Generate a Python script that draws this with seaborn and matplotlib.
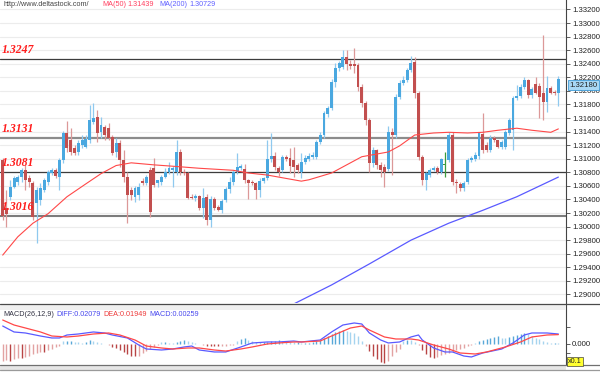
import numpy as np
import pandas as pd
import matplotlib
matplotlib.use('Agg')
import matplotlib.pyplot as plt
from matplotlib.lines import Line2D
from matplotlib.patches import Rectangle
import matplotlib.transforms as mtrans
import seaborn as sns

sns.set_style('white')
plt.rcParams['font.family'] = ['Liberation Sans', 'DejaVu Sans']

### DATA ###
opens = [1.3098, 1.3027, 1.3044, 1.3058, 1.3066, 1.3073, 1.3083, 1.3072, 1.3064, 1.3035,
	1.3039, 1.3054, 1.3066, 1.3079, 1.3083, 1.3073, 1.3098, 1.3138, 1.3128, 1.3116,
	1.3110, 1.3120, 1.3117, 1.3128, 1.3154, 1.3162, 1.3139, 1.3147, 1.3145, 1.3132,
	1.3110, 1.3123, 1.3098, 1.3073, 1.3054, 1.3044, 1.3047, 1.3067, 1.3064, 1.3083,
	1.3086, 1.3064, 1.3066, 1.3073, 1.3080, 1.3084, 1.3080, 1.3110, 1.3081, 1.3079,
	1.3044, 1.3042, 1.3045, 1.3027, 1.3044, 1.3010, 1.3040, 1.3029, 1.3025, 1.3039,
	1.3055, 1.3066, 1.3080, 1.3087, 1.3085, 1.3069, 1.3066, 1.3064, 1.3054, 1.3067,
	1.3071, 1.3100, 1.3104, 1.3086, 1.3083, 1.3103, 1.3101, 1.3098, 1.3091, 1.3080,
	1.3095, 1.3099, 1.3102, 1.3103, 1.3125, 1.3135, 1.3166, 1.3175, 1.3213, 1.3234,
	1.3235, 1.3250, 1.3240, 1.3240, 1.3238, 1.3206, 1.3182, 1.3157, 1.3094, 1.3113,
	1.3091, 1.3088, 1.3085, 1.3140, 1.3135, 1.3191, 1.3212, 1.3216, 1.3231, 1.3243,
	1.3197, 1.3103, 1.3069, 1.3076, 1.3084, 1.3087, 1.3080, 1.3091, 1.3098, 1.3135,
	1.3066, 1.3063, 1.3057, 1.3066, 1.3098, 1.3099, 1.3104, 1.3136, 1.3120, 1.3113,
	1.3130, 1.3127, 1.3118, 1.3118, 1.3138, 1.3143, 1.3189, 1.3193, 1.3206, 1.3216,
	1.3194, 1.3210, 1.3207, 1.3197, 1.3183, 1.3204, 1.3198, 1.3197]
highs = [1.3101, 1.3054, 1.3069, 1.3075, 1.3076, 1.3086, 1.3091, 1.3076, 1.3067, 1.3058,
	1.3064, 1.3072, 1.3083, 1.3086, 1.3086, 1.3101, 1.3141, 1.3156, 1.3145, 1.3120,
	1.3128, 1.3135, 1.3135, 1.3179, 1.3182, 1.3172, 1.3162, 1.3150, 1.3153, 1.3135,
	1.3131, 1.3128, 1.3113, 1.3080, 1.3058, 1.3060, 1.3064, 1.3072, 1.3076, 1.3088,
	1.3101, 1.3069, 1.3076, 1.3086, 1.3095, 1.3090, 1.3128, 1.3115, 1.3085, 1.3081,
	1.3048, 1.3048, 1.3047, 1.3057, 1.3048, 1.3045, 1.3043, 1.3032, 1.3041, 1.3058,
	1.3073, 1.3083, 1.3108, 1.3092, 1.3092, 1.3070, 1.3069, 1.3066, 1.3071, 1.3073,
	1.3128, 1.3138, 1.3110, 1.3090, 1.3106, 1.3106, 1.3116, 1.3117, 1.3094, 1.3108,
	1.3105, 1.3108, 1.3110, 1.3128, 1.3140, 1.3170, 1.3178, 1.3218, 1.3241, 1.3244,
	1.3260, 1.3260, 1.3245, 1.3263, 1.3241, 1.3210, 1.3185, 1.3160, 1.3118, 1.3115,
	1.3095, 1.3092, 1.3148, 1.3145, 1.3195, 1.3216, 1.3222, 1.3234, 1.3251, 1.3250,
	1.3200, 1.3106, 1.3081, 1.3086, 1.3090, 1.3090, 1.3101, 1.3110, 1.3140, 1.3140,
	1.3070, 1.3066, 1.3067, 1.3101, 1.3104, 1.3110, 1.3140, 1.3168, 1.3125, 1.3135,
	1.3134, 1.3128, 1.3128, 1.3143, 1.3160, 1.3192, 1.3208, 1.3210, 1.3220, 1.3218,
	1.3206, 1.3220, 1.3212, 1.3282, 1.3222, 1.3207, 1.3202, 1.3222]
lows = [1.3010, 1.3000, 1.3039, 1.3057, 1.3061, 1.3066, 1.3054, 1.3058, 1.3010, 1.2976,
	1.3032, 1.3051, 1.3061, 1.3076, 1.3072, 1.3054, 1.3094, 1.3110, 1.3106, 1.3106,
	1.3106, 1.3116, 1.3116, 1.3123, 1.3151, 1.3125, 1.3131, 1.3128, 1.3128, 1.3106,
	1.3103, 1.3088, 1.3066, 1.3005, 1.3039, 1.3036, 1.3039, 1.3061, 1.3061, 1.3014,
	1.3058, 1.3058, 1.3062, 1.3071, 1.3078, 1.3058, 1.3076, 1.3076, 1.3076, 1.3040,
	1.3040, 1.3038, 1.3025, 1.3013, 1.3002, 1.3000, 1.3025, 1.3023, 1.3020, 1.3036,
	1.3050, 1.3062, 1.3077, 1.3084, 1.3064, 1.3040, 1.3061, 1.3040, 1.3044, 1.3064,
	1.3068, 1.3095, 1.3083, 1.3075, 1.3080, 1.3096, 1.3079, 1.3073, 1.3079, 1.3072,
	1.3092, 1.3096, 1.3099, 1.3100, 1.3122, 1.3130, 1.3162, 1.3172, 1.3206, 1.3230,
	1.3232, 1.3231, 1.3233, 1.3226, 1.3200, 1.3176, 1.3150, 1.3080, 1.3088, 1.3085,
	1.3073, 1.3058, 1.3082, 1.3076, 1.3130, 1.3188, 1.3208, 1.3213, 1.3228, 1.3190,
	1.3098, 1.3061, 1.3054, 1.3073, 1.3082, 1.3078, 1.3078, 1.3073, 1.3095, 1.3062,
	1.3050, 1.3052, 1.3052, 1.3063, 1.3095, 1.3096, 1.3100, 1.3108, 1.3110, 1.3110,
	1.3125, 1.3116, 1.3115, 1.3115, 1.3135, 1.3113, 1.3186, 1.3190, 1.3203, 1.3190,
	1.3190, 1.3195, 1.3160, 1.3157, 1.3169, 1.3195, 1.3194, 1.3178]
closes = [1.3016, 1.3019, 1.3058, 1.3072, 1.3073, 1.3083, 1.3069, 1.3066, 1.3014, 1.3054,
	1.3057, 1.3069, 1.3080, 1.3083, 1.3075, 1.3098, 1.3138, 1.3116, 1.3110, 1.3108,
	1.3123, 1.3128, 1.3129, 1.3157, 1.3160, 1.3138, 1.3150, 1.3135, 1.3131, 1.3108,
	1.3123, 1.3098, 1.3073, 1.3047, 1.3047, 1.3057, 1.3058, 1.3064, 1.3073, 1.3022,
	1.3061, 1.3069, 1.3073, 1.3080, 1.3086, 1.3086, 1.3110, 1.3080, 1.3079, 1.3042,
	1.3042, 1.3045, 1.3027, 1.3042, 1.3010, 1.3040, 1.3028, 1.3025, 1.3038, 1.3055,
	1.3066, 1.3080, 1.3088, 1.3090, 1.3069, 1.3064, 1.3064, 1.3054, 1.3067, 1.3071,
	1.3100, 1.3104, 1.3088, 1.3080, 1.3103, 1.3100, 1.3089, 1.3088, 1.3083, 1.3095,
	1.3101, 1.3104, 1.3106, 1.3125, 1.3135, 1.3167, 1.3175, 1.3213, 1.3234, 1.3241,
	1.3250, 1.3240, 1.3237, 1.3237, 1.3206, 1.3182, 1.3157, 1.3094, 1.3113, 1.3091,
	1.3083, 1.3080, 1.3140, 1.3135, 1.3191, 1.3212, 1.3216, 1.3231, 1.3241, 1.3197,
	1.3103, 1.3069, 1.3079, 1.3083, 1.3087, 1.3080, 1.3099, 1.3091, 1.3135, 1.3066,
	1.3064, 1.3057, 1.3064, 1.3098, 1.3101, 1.3105, 1.3138, 1.3113, 1.3113, 1.3131,
	1.3128, 1.3118, 1.3125, 1.3140, 1.3157, 1.3189, 1.3193, 1.3206, 1.3216, 1.3194,
	1.3203, 1.3197, 1.3191, 1.3183, 1.3204, 1.3197, 1.3197, 1.3218]

ma50_idx = [0, 4, 8, 12, 17, 22, 26, 30, 34, 40, 45, 52, 61, 65, 70, 74, 79, 81, 87, 92,
	95, 98, 102, 105, 109, 114, 118, 123, 127, 131, 136, 140, 145, 147]
ma50_val = [1.2958, 1.2985, 1.3005, 1.3019, 1.3044, 1.3063, 1.3078, 1.3090, 1.3094, 1.3091,
	1.3089, 1.3086, 1.3083, 1.3079, 1.3076, 1.3072, 1.3067, 1.3069, 1.3079, 1.3094,
	1.3103, 1.3106, 1.3110, 1.3119, 1.3135, 1.3138, 1.3139, 1.3138, 1.3139, 1.3142,
	1.3145, 1.3142, 1.3139, 1.3144]
ma200_idx = [77, 87, 97, 108, 118, 127, 136, 147]
ma200_val = [1.2886, 1.2914, 1.2945, 1.2980, 1.3005, 1.3024, 1.3044, 1.3073]

diff_idx = [0, 3, 6, 10, 13, 15, 17, 20, 24, 27, 29, 33, 36, 38, 42, 45, 48, 50, 52, 56,
	59, 63, 66, 70, 73, 77, 79, 84, 87, 90, 93, 95, 97, 100, 102, 105, 108, 110, 111, 114,
	117, 119, 122, 124, 127, 132, 135, 138, 140, 144, 147]
diff_val = [0.0374, 0.0250, 0.0229, 0.0166, 0.0125, 0.0125, 0.0187, 0.0208, 0.0250, 0.0229,
	0.0187, 0.0125, -0.0021, -0.0104, -0.0125, -0.0104, -0.0062, -0.0042, -0.0125, -0.0166,
	-0.0166, -0.0062, 0.0021, 0.0042, 0.0042, 0.0062, 0.0042, 0.0083, 0.0250, 0.0395,
	0.0437, 0.0416, 0.0229, 0.0083, 0.0021, 0.0042, 0.0146, 0.0187, 0.0083, -0.0083,
	-0.0166, -0.0166, -0.0250, -0.0270, -0.0187, -0.0104, 0.0021, 0.0187, 0.0229, 0.0229,
	0.0208]
dea_idx = [0, 3, 6, 10, 13, 17, 20, 24, 28, 31, 35, 38, 42, 45, 49, 52, 56, 59, 63, 66,
	70, 73, 77, 79, 84, 87, 92, 95, 97, 101, 104, 108, 110, 114, 118, 121, 125, 128, 133, 137,
	140, 144, 147]
dea_val = [0.0499, 0.0395, 0.0333, 0.0250, 0.0166, 0.0146, 0.0166, 0.0208, 0.0229, 0.0187,
	0.0083, -0.0042, -0.0083, -0.0104, -0.0083, -0.0083, -0.0125, -0.0146, -0.0104, -0.0062,
	0.0000, 0.0021, 0.0042, 0.0042, 0.0062, 0.0166, 0.0333, 0.0374, 0.0291, 0.0146,
	0.0104, 0.0104, 0.0083, -0.0021, -0.0104, -0.0187, -0.0208, -0.0166, -0.0062, 0.0042,
	0.0146, 0.0187, 0.0195]
macd_hist = [-0.0360, -0.0333, -0.0347, -0.0319, -0.0291, -0.0291, -0.0270, -0.0250, -0.0215, -0.0180,
	-0.0159, -0.0166, -0.0125, -0.0097, -0.0069, -0.0035, 0.0062, 0.0062, 0.0069, 0.0042,
	0.0035, 0.0021, 0.0042, 0.0076, 0.0069, 0.0042, 0.0021, 0.0007, -0.0028, -0.0055,
	-0.0090, -0.0118, -0.0166, -0.0208, -0.0243, -0.0256, -0.0243, -0.0180, -0.0146, -0.0104,
	-0.0055, -0.0014, 0.0035, 0.0035, 0.0028, 0.0021, 0.0042, 0.0055, 0.0076, 0.0055,
	0.0042, 0.0014, 0.0003, -0.0021, -0.0035, -0.0042, -0.0049, -0.0049, -0.0042, -0.0035,
	-0.0028, -0.0014, 0.0055, 0.0104, 0.0125, 0.0090, 0.0055, 0.0042, 0.0035, 0.0035,
	0.0042, 0.0055, 0.0069, 0.0076, 0.0062, 0.0055, 0.0042, 0.0035, 0.0035, 0.0021,
	0.0021, 0.0028, 0.0035, 0.0055, 0.0076, 0.0132, 0.0166, 0.0208, 0.0249, 0.0277,
	0.0298, 0.0263, 0.0243, 0.0222, 0.0159, 0.0062, -0.0049, -0.0152, -0.0243, -0.0312,
	-0.0381, -0.0395, -0.0360, -0.0256, -0.0173, -0.0104, 0.0062, 0.0090, 0.0083, 0.0035,
	-0.0021, -0.0132, -0.0208, -0.0270, -0.0291, -0.0263, -0.0236, -0.0208, -0.0180, -0.0159,
	-0.0125, -0.0104, -0.0083, -0.0042, -0.0021, 0.0028, 0.0062, 0.0090, 0.0104, 0.0125,
	0.0146, 0.0159, 0.0132, 0.0125, 0.0139, 0.0173, 0.0194, 0.0215, 0.0229, 0.0215,
	0.0159, 0.0132, 0.0097, 0.0062, 0.0035, 0.0021, 0.0021, 0.0014]

levels = [1.3247, 1.3131, 1.3081, 1.3016]
level_labels = ['1.3247', '1.3131', '1.3081', '1.3016']
price_ticks = [1.290, 1.292, 1.294, 1.296, 1.298, 1.300, 1.302, 1.304, 1.306, 1.308, 1.310,
	1.312, 1.314, 1.316, 1.318, 1.320, 1.322, 1.324, 1.326, 1.328, 1.330, 1.332]
last_price = 1.3218

candles = pd.DataFrame({'open': opens, 'high': highs, 'low': lows, 'close': closes})
candles['i'] = np.arange(len(candles))


### FIGURE ###
W, H = 600, 373
fig = plt.figure(figsize=(6, 3.73), dpi=100)
fig.patch.set_facecolor('white')

def fx(px):
	return px / W

def fy(py):
	return 1 - py / H

xlim = (-0.714, 149.02)

ax = fig.add_axes([0, fy(303), fx(566), 303 / H])
ax.set_xlim(*xlim)
ax.set_ylim(1.28874, 1.3334)

# candles
up = candles.close > candles.open
down = candles.close < candles.open
body_col = np.where(up, '#4aa8e0', np.where(down, '#c24f4f', '#3c9c3c'))
wick_col = np.where(up, '#8fc9ef', np.where(down, '#dc9898', '#3c9c3c'))
ax.vlines(candles.i, candles.low, candles.high, colors=wick_col, lw=0.9, zorder=3)
heights = np.maximum((candles.close - candles.open).abs(), 0.00008)
ax.bar(candles.i, heights, bottom=np.minimum(candles.open, candles.close),
	width=0.78, color=body_col, edgecolor='none', zorder=4)

# moving averages
sns.lineplot(x=ma50_idx, y=ma50_val, ax=ax, color='#ff4848', linewidth=0.8, zorder=5)
sns.lineplot(x=ma200_idx, y=ma200_val, ax=ax, color='#5a5aff', linewidth=0.9, zorder=5)

# support / resistance
level_styles = [('#3c3c3c', 0.9), ('#8c8c8c', 1.6), ('#3c3c3c', 0.9), ('#7c7c7c', 1.5)]
for lv, lab, (col, lw) in zip(levels, level_labels, level_styles):
	ax.axhline(lv, color=col, lw=lw, zorder=2)
	ax.annotate(lab, xy=(0.003, lv), xycoords=('axes fraction', 'data'),
		xytext=(0, 2), textcoords='offset points', ha='left', va='bottom',
		family='Liberation Serif', fontsize=8.5, fontweight='bold', style='italic',
		color='#ff1c1c', zorder=6)

ax.set_yticks(price_ticks)
ax.set_yticklabels(['%.5f' % t for t in price_ticks])
ax.yaxis.tick_right()
ax.set_xticks([])
ax.grid(axis='y', color='#ececec', lw=0.8)
ax.set_axisbelow(True)
ax.tick_params(axis='y', direction='out', length=3, width=0.6, color='#444444',
	labelsize=5.6, pad=1.5, labelcolor='#222222')
for side in ['left', 'top', 'bottom']:
	ax.spines[side].set_visible(False)
ax.spines['right'].set_color('#444444')
ax.spines['right'].set_linewidth(0.8)

# current price marker, drawn over the 1.32200 tick label as in the original
ax.annotate('%.5f' % last_price, xy=(1.0, last_price), xycoords=('axes fraction', 'data'),
	xytext=(2.2, -2.2), textcoords='offset points', ha='left', va='top',
	fontsize=5.6, color='#222222', zorder=10, annotation_clip=False,
	bbox=dict(boxstyle='square,pad=0.2', fc='#a8d8f5', ec='#3e9ad6', lw=0.6))

# header
fig.text(fx(3), fy(5), 'http://www.deltastock.com/', fontsize=5.2, color='#444444', va='center')
fig.text(fx(102), fy(5), 'MA(50)', fontsize=5.2, color='#ff4060', va='center')
fig.text(fx(127), fy(5), '1.31439', fontsize=5.2, color='#ff4060', va='center')
fig.text(fx(159), fy(5), 'MA(200)', fontsize=5.2, color='#6060ff', va='center')
fig.text(fx(189), fy(5), '1.30729', fontsize=5.2, color='#6060ff', va='center')


### MACD PANEL ###
mx = fig.add_axes([0, fy(365), fx(566), 61 / H])
mx.set_xlim(*xlim)
mx.set_ylim(-0.0437, 0.0832)

hist = np.array(macd_hist)
prev = np.concatenate([[0.0], hist[:-1]])
growing = (np.abs(hist) >= np.abs(prev)) & (np.sign(hist) == np.sign(prev))
hcol = np.where(hist >= 0,
	np.where(growing, '#58a8d8', '#a6d4ef'),
	np.where(growing, '#b84444', '#e2a2a2'))
mx.vlines(candles.i, 0, hist, colors=hcol, lw=1.0, zorder=2)
sns.lineplot(x=diff_idx, y=diff_val, ax=mx, color='#5a5aff', linewidth=0.9, zorder=3)
sns.lineplot(x=dea_idx, y=dea_val, ax=mx, color='#ff4848', linewidth=0.9, zorder=3)

mx.set_xticks([])
mx.set_yticks([-0.0194, 0.0, 0.0347])
mx.set_yticklabels(['', '0.000', ''])
mx.yaxis.tick_right()
mx.tick_params(axis='y', direction='out', length=3, width=0.6, color='#444444',
	labelsize=5.6, pad=1.5, labelcolor='#222222')
for side in ['left', 'top', 'bottom']:
	mx.spines[side].set_visible(False)
mx.spines['right'].set_color('#444444')
mx.spines['right'].set_linewidth(0.8)

# panel frame and header strip
fig.patches.append(Rectangle((0, fy(310)), fx(566), 6 / H, transform=fig.transFigure,
	facecolor='#f0f0f0', edgecolor='none', zorder=0))
fig.patches.append(Rectangle((0, fy(370)), fx(566), 5 / H, transform=fig.transFigure,
	facecolor='#e6e6e6', edgecolor='none', zorder=0))
for py, col in [(303.5, '#4a4a4a'), (365, '#707070'), (370, '#9a9a9a')]:
	fig.add_artist(Line2D([0, 1], [fy(py), fy(py)], color=col, lw=0.9, transform=fig.transFigure))

fig.text(fx(3), fy(315), 'MACD(26,12,9)', fontsize=5.2, color='#333344', va='center')
fig.text(fx(56), fy(315), 'DIFF:0.02079', fontsize=5.2, color='#4848ee', va='center')
fig.text(fx(103), fy(315), 'DEA:0.01949', fontsize=5.2, color='#ee3a3a', va='center')
fig.text(fx(149), fy(315), 'MACD:0.00259', fontsize=5.2, color='#4848ee', va='center')

fig.text(fx(568), fy(361.5), 'x0.1', fontsize=5.2, color='#222222', va='center', ha='left',
	bbox=dict(boxstyle='square,pad=0.15', fc='#ffff30', ec='#444444', lw=0.5))

fig.savefig('out.png', dpi=100, facecolor='white')
